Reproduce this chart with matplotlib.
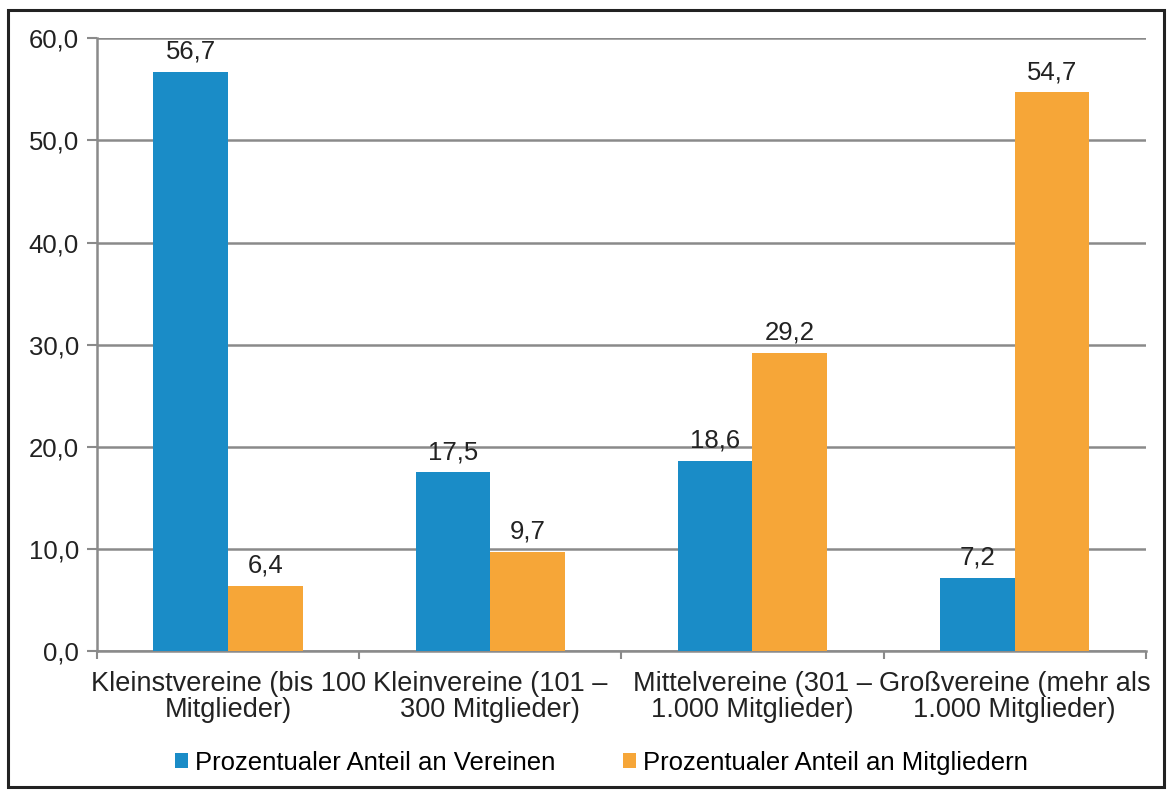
import matplotlib.pyplot as plt
from matplotlib.patches import Rectangle
import numpy as np

kategorien = ["Kleinstvereine (bis 100\nMitglieder)",
              "Kleinvereine (101 –\n300 Mitglieder)",
              "Mittelvereine (301 –\n1.000 Mitglieder)",
              "Großvereine (mehr als\n1.000 Mitglieder)"]
anteil_vereine = [56.7, 17.5, 18.6, 7.2]
anteil_mitglieder = [6.4, 9.7, 29.2, 54.7]
y_ticks = [0, 10, 20, 30, 40, 50, 60]

blau = "#1a8cc7"
orange = "#f6a638"
grau = "#8a8a8a"
schrift = "#222222"

plt.rcParams['font.family'] = ['Liberation Sans', 'DejaVu Sans']

fig = plt.figure(figsize=(11.68, 7.97), dpi=100)
ax = fig.add_axes([0.083, 0.183, 0.898, 0.769])

x = np.arange(len(kategorien))
breite = 0.285
b1 = ax.bar(x - breite / 2, anteil_vereine, breite, color=blau,
            label="Prozentualer Anteil an Vereinen", zorder=3)
b2 = ax.bar(x + breite / 2, anteil_mitglieder, breite, color=orange,
            label="Prozentualer Anteil an Mitgliedern", zorder=3)

def komma(v):
    return f"{v:.1f}".replace(".", ",")

for balken in (b1, b2):
    for rect in balken:
        h = rect.get_height()
        ax.annotate(komma(h), (rect.get_x() + rect.get_width() / 2, h),
                    xytext=(0, 6), textcoords="offset points",
                    ha="center", va="bottom", fontsize=18.5, color=schrift)

ax.set_xlim(-0.5, len(kategorien) - 0.5)
ax.set_ylim(0, 60)
ax.set_yticks(y_ticks)
ax.set_yticklabels([komma(v) for v in y_ticks], fontsize=18.5, color=schrift)
ax.yaxis.grid(True, color=grau, linewidth=1.8, zorder=0)

ax.set_xticks(x)
ax.set_xticklabels(kategorien, fontsize=19.5, color=schrift, linespacing=1.0)
ax.tick_params(axis="x", length=0, pad=14)
ax.set_xticks(np.arange(-0.5, len(kategorien)), minor=True)
ax.tick_params(axis="x", which="minor", length=6, color=grau, width=1.5)
ax.tick_params(axis="y", length=7, color=grau, width=1.5, pad=6)

for s in ("top", "right"):
    ax.spines[s].set_visible(False)
for s in ("left", "bottom"):
    ax.spines[s].set_color(grau)
    ax.spines[s].set_linewidth(1.8)

fig.legend(handles=[b1, b2], loc="center", bbox_to_anchor=(0.515, 0.043),
           ncol=2, frameon=False, fontsize=18.5, handlelength=0.5,
           handleheight=0.5, handletextpad=0.3, columnspacing=2.6)

# Rahmen um die Grafik
fig.patches.append(Rectangle((0.007, 0.012), 0.99, 0.975, transform=fig.transFigure,
                             fill=False, edgecolor=schrift, linewidth=2.2))

fig.savefig("out.png", dpi=100)
